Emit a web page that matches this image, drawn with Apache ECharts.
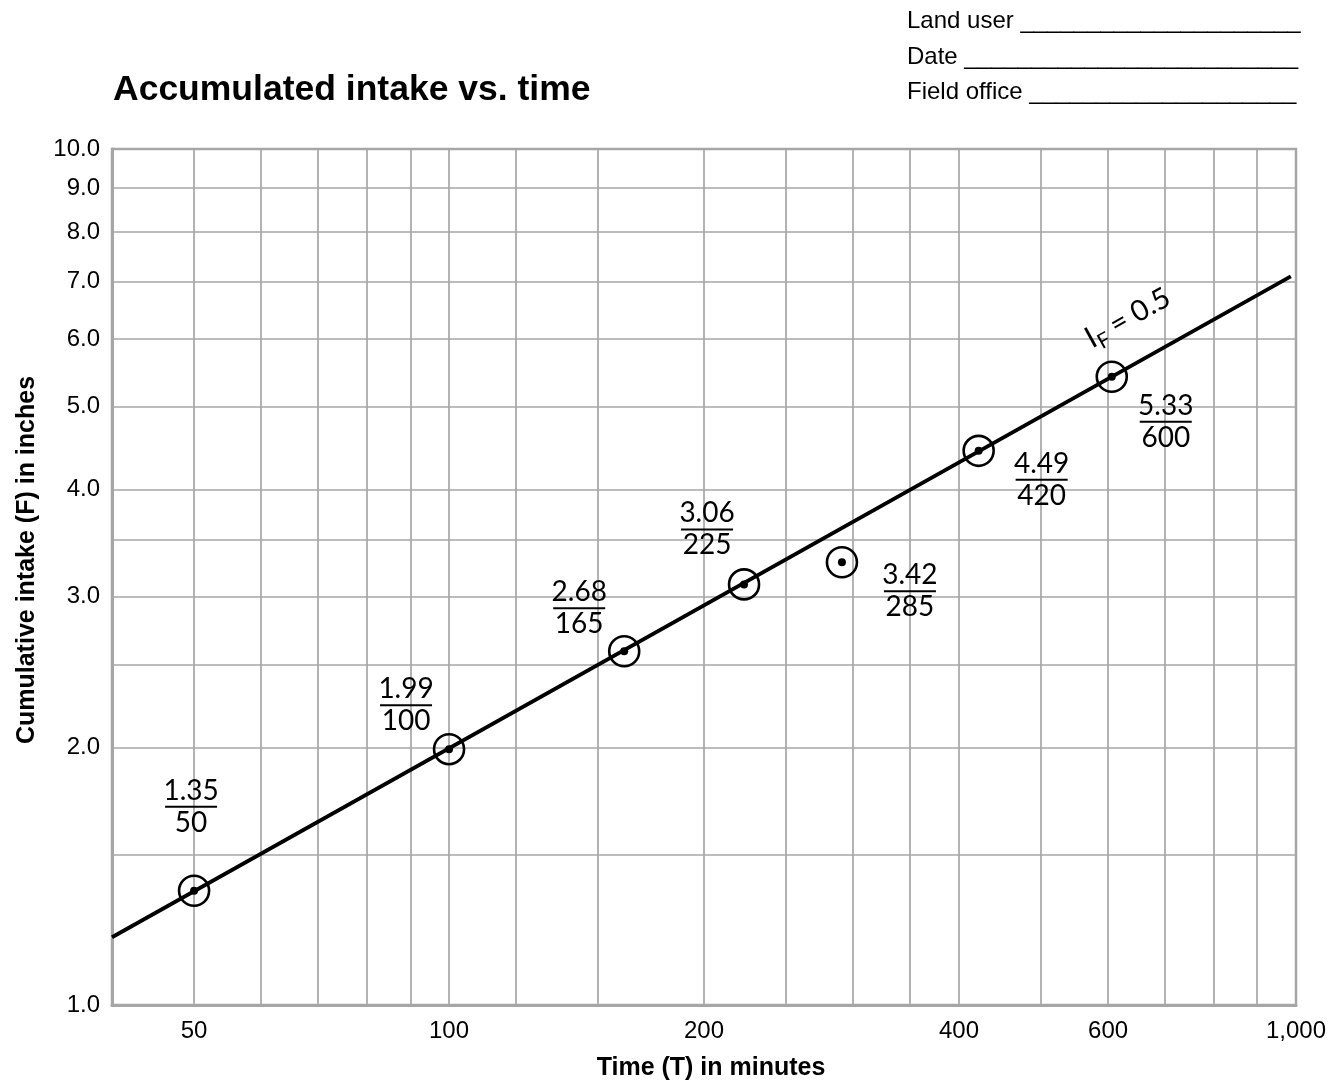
<!DOCTYPE html>
<html>
<head>
<meta charset="utf-8">
<script src="https://cdn.jsdelivr.net/npm/echarts@6.0.0/dist/echarts.min.js"></script>
<style>
  html, body { margin: 0; padding: 0; background: #fff; }
  #chart { width: 1330px; height: 1080px; }
</style>
</head>
<body>
<div id="chart"></div>
<script>
// plotted point positions
const timeMin = [50, 100, 161, 223, 291, 422, 606];
const intakeIn = [1.36, 1.99, 2.59, 3.1, 3.29, 4.44, 5.42];
// written notes next to each point: intake over time
const noteIntake = ["1.35", "1.99", "2.68", "3.06", "3.42", "4.49", "5.33"];
const noteTime = ["50", "100", "165", "225", "285", "420", "600"];
// ends of the fitted line
const fitTime = [40, 986];
const fitIntake = [1.2, 7.1];

const xLabelTicks = [50, 100, 200, 400, 600, 1000];
const xGridTicks = [40, 50, 60, 70, 80, 90, 100, 120, 150, 200, 250, 300, 350, 400, 500, 600, 700, 800, 900, 1000];
const yLabelTicks = [1, 2, 3, 4, 5, 6, 7, 8, 9, 10];
const yGridTicks = [1, 1.5, 2, 2.5, 3, 3.5, 4, 5, 6, 7, 8, 9, 10];

const chart = echarts.init(document.getElementById("chart"));

const gridGray = "#a6a6a6";
const sans = "Liberation Sans";
// where each note sits relative to its point (px)
const noteOffset = [[-3, -84], [-43, -44], [-45, -43], [-37, -55], [68, 29], [63, 29], [54, 45]];

const fracRich = {
  n: { fontFamily: "Lato", fontSize: 28, lineHeight: 30, color: "#000" },
  l: { width: 52, height: 2, lineHeight: 2, backgroundColor: "#000" },
  d: { fontFamily: "Lato", fontSize: 28, lineHeight: 30, color: "#000" }
};

const pts = timeMin.map((t, i) => [t, intakeIn[i]]);

const option = {
  animation: false,
  backgroundColor: "#fff",
  title: [
    {
      text: "Accumulated intake vs. time",
      left: 113,
      top: 72,
      padding: 0,
      textStyle: { fontFamily: sans, fontSize: 35.5, fontWeight: "bold", color: "#000" }
    },
    {
      text: "Land user " + "_".repeat(21) + "\nDate " + "_".repeat(25) + "\nField office " + "_".repeat(20),
      left: 907,
      top: 4,
      padding: 0,
      textStyle: { fontFamily: sans, fontSize: 24, fontWeight: "normal", color: "#000", lineHeight: 35.5 }
    }
  ],
  grid: {
    left: 112, right: 34, top: 149, bottom: 75,
    outerBoundsMode: "none",
    show: true, borderColor: gridGray, borderWidth: 2.5
  },
  xAxis: {
    type: "log",
    logBase: 10,
    min: 40,
    max: 1000,
    name: "Time (T) in minutes",
    nameLocation: "middle",
    nameGap: 51,
    nameTextStyle: { fontFamily: sans, fontSize: 25, fontWeight: "bold", color: "#000", padding: [0, 0, 0, 14] },
    axisLine: { lineStyle: { color: gridGray, width: 3 } },
    axisTick: { show: false, customValues: xGridTicks },
    splitLine: { show: true, lineStyle: { color: gridGray, width: 1.7 } },
    axisLabel: {
      customValues: xLabelTicks,
      margin: 14,
      fontFamily: sans,
      fontSize: 24,
      color: "#000",
      formatter: (v) => (v >= 1000 ? "1,000" : String(Math.round(v)))
    }
  },
  yAxis: {
    type: "log",
    logBase: 10,
    min: 1,
    max: 10,
    name: "Cumulative intake (F) in inches",
    nameLocation: "middle",
    nameGap: 72,
    nameTextStyle: { fontFamily: sans, fontSize: 25, fontWeight: "bold", color: "#000", padding: [0, 0, 0, 34] },
    axisLine: { show: true, lineStyle: { color: gridGray, width: 3 } },
    axisTick: { show: false, customValues: yGridTicks },
    splitLine: { show: true, lineStyle: { color: gridGray, width: 1.7 } },
    axisLabel: {
      customValues: yLabelTicks,
      margin: 12,
      fontFamily: sans,
      fontSize: 24,
      color: "#000",
      formatter: (v) => Number(v).toFixed(1)
    }
  },
  series: [
    {
      type: "line",
      data: fitTime.map((t, i) => [t, fitIntake[i]]),
      symbol: "none",
      lineStyle: { color: "#000", width: 3.8 },
      z: 3,
      markPoint: {
        symbol: "circle",
        symbolSize: 0,
        data: [{ coord: [633, 6.35] }],
        label: {
          show: true,
          position: "inside",
          rotate: 29,
          formatter: "{i|I}{f|F}{e| = 0.5}",
          rich: {
            i: { fontFamily: "Lato", fontSize: 30, color: "#000", lineHeight: 38, verticalAlign: "middle" },
            f: { fontFamily: "Lato", fontSize: 21, color: "#000", lineHeight: 38, verticalAlign: "bottom" },
            e: { fontFamily: "Lato", fontSize: 29, color: "#000", lineHeight: 38, verticalAlign: "middle" }
          }
        }
      }
    },
    {
      type: "scatter",
      data: pts,
      symbol: "circle",
      symbolSize: 30,
      itemStyle: { color: "rgba(0,0,0,0)", borderColor: "#000", borderWidth: 2.6, opacity: 1 },
      z: 4
    },
    {
      type: "scatter",
      data: pts.map((p, i) => ({
        value: p,
        label: {
          show: true,
          position: "inside",
          offset: noteOffset[i],
          align: "center",
          verticalAlign: "middle",
          formatter: "{n|" + noteIntake[i] + "}\n{l|}\n{d|" + noteTime[i] + "}",
          rich: fracRich
        }
      })),
      symbol: "circle",
      symbolSize: 8,
      itemStyle: { color: "#000", opacity: 1 },
      z: 5
    }
  ]
};

chart.setOption(option);
</script>
</body>
</html>
